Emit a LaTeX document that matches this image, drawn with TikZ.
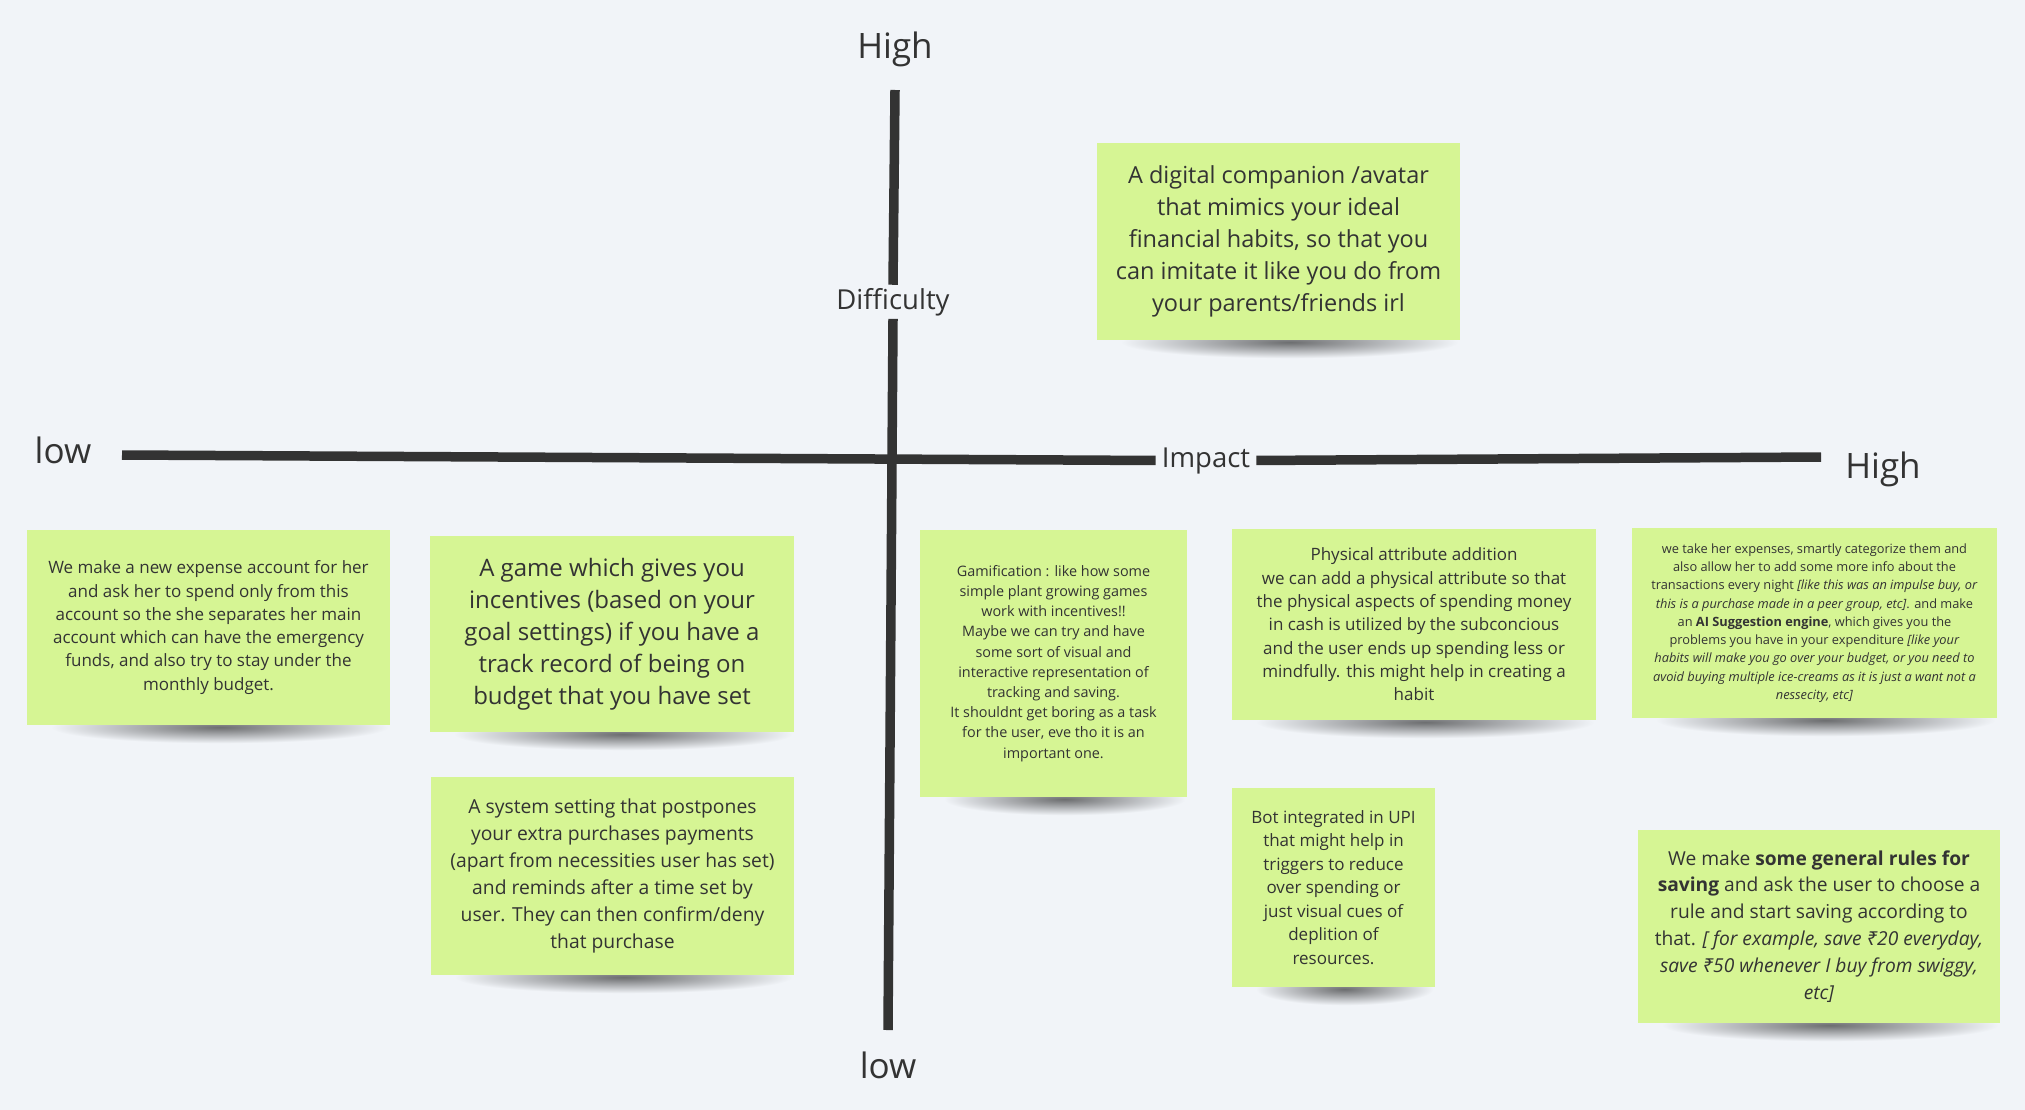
\documentclass[tikz,border=0pt]{standalone}
\usepackage{fontspec}
\setmainfont{Open Sans}
\newfontfamily\rupeefont{Noto Sans}
\usetikzlibrary{backgrounds}
\definecolor{boardbg}{HTML}{F1F4F8}
\definecolor{notegreen}{HTML}{D6F594}
\definecolor{inkgray}{HTML}{333333}
\newcommand{\rupee}{{\rupeefont ₹}}
\tikzset{note/.style={rectangle,fill=notegreen,text=inkgray,align=center,inner sep=0pt}}
\tikzset{notefont/.style 2 args={font=\fontsize{#1}{#2}\selectfont}}
\tikzset{axis/.style={draw=inkgray,line width=9.5pt}}
\tikzset{axislabel/.style={text=inkgray,anchor=base,font=\fontsize{35}{40}\selectfont}}
\tikzset{axisname/.style={text=inkgray,anchor=base,inner xsep=6pt,inner ysep=3pt,font=\fontsize{27.5}{32}\selectfont}}
\tikzset{noteshadow/.style={inner color=black!55!boardbg,outer color=boardbg}}

\begin{document}
\begin{tikzpicture}[x=1pt,y=-1pt]
  \useasboundingbox (0,0) rectangle (2025,1110);
  % axes
  \coordinate (hL) at (122,455);
  \coordinate (hR) at (1821,457);
  \coordinate (vT) at (895,90);
  \coordinate (vB) at (888,1030);
  \node [axislabel] (highT) at (895,59) {High};
  \node [axislabel] (lowL) at (63,463) {low};
  \node [axislabel] (highR) at (1883,478) {High};
  \node [axislabel] (lowB) at (888,1078) {low};
  \node [axisname] (diff) at (893,309) {Difficulty};
  \node [axisname] (impact) at (1206,467) {Impact};
  \draw [axis] (vT) -- (diff.north);
  \draw [axis] (diff.south) -- (vB);
  \draw [axis] (hL) -- (impact.west);
  \draw [axis] (impact.east) -- (hR);
  % sticky notes
  \node [note,notefont={23.5}{32},minimum width=363pt,minimum height=197pt] (avatar) at (1278.5,241.5)
    {A digital companion /avatar\\that mimics your ideal\\financial habits, so that you\\can imitate it like you do from\\your parents/friends irl};
  \node [note,notefont={17}{23.3},minimum width=363pt,minimum height=195pt] (account) at (208.5,627.5)
    {We make a new expense account for her\\and ask her to spend only from this\\account so the she separates her main\\account which can have the emergency\\funds, and also try to stay under the\\monthly budget.};
  \node [note,notefont={24}{32},minimum width=364pt,minimum height=196pt] (game) at (612,634)
    {A game which gives you\\incentives (based on your\\goal settings) if you have a\\track record of being on\\budget that you have set};
  \node [note,notefont={19.3}{26.9},minimum width=363pt,minimum height=198pt] (system) at (612.5,876)
    {A system setting that postpones\\your extra purchases payments\\(apart from necessities user has set)\\and reminds after a time set by\\user. They can then confirm/deny\\that purchase};
  \node [note,notefont={14.4}{20.2},minimum width=267pt,minimum height=267pt] (gamif) at (1053.5,663.5)
    {Gamification : like how some\\simple plant growing games\\work with incentives!!\\Maybe we can try and have\\some sort of visual and\\interactive representation of\\tracking and saving.\\It shouldnt get boring as a task\\for the user, eve tho it is an\\important one.};
  \node [note,notefont={17}{23.3},minimum width=364pt,minimum height=191pt] (physical) at (1414,624.5)
    {Physical attribute addition\\we can add a physical attribute so that\\the physical aspects of spending money\\in cash is utilized by the subconcious\\and the user ends up spending less or\\mindfully. this might help in creating a\\habit};
  \node [note,notefont={12.8}{18.25},minimum width=365pt,minimum height=190pt] (wetake) at (1814.5,623)
    {we take her expenses, smartly categorize them and\\also allow her to add some more info about the\\transactions every night \textit{[like this was an impulse buy, or}\\\textit{this is a purchase made in a peer group, etc]}. and make\\an \textbf{AI Suggestion engine}, which gives you the\\problems you have in your expenditure \textit{[like your}\\\textit{habits will make you go over your budget, or you need to}\\\textit{avoid buying multiple ice-creams as it is just a want not a}\\\textit{nessecity, etc]}};
  \node [note,notefont={17}{23.5},minimum width=203pt,minimum height=199pt] (bot) at (1333.5,887.5)
    {Bot integrated in UPI\\that might help in\\triggers to reduce\\over spending or\\just visual cues of\\deplition of\\resources.};
  \node [note,notefont={19.2}{26.9},minimum width=362pt,minimum height=193pt] (rules) at (1819,926.5)
    {We make \textbf{some general rules for}\\\textbf{saving} and ask the user to choose a\\rule and start saving according to\\that. \textit{[ for example, save \rupee20 everyday,}\\\textit{save \rupee50 whenever I buy from swiggy,}\\\textit{etc]}};
  \begin{pgfonlayer}{background}
    \fill [boardbg] (0,0) rectangle (2025,1110);
    \foreach \n in {avatar,account,game,system,gamif,physical,wetake,bot,rules}
      \shade [noteshadow] ([xshift=24pt,yshift=14pt]\n.south west) rectangle ([xshift=-2pt,yshift=-18pt]\n.south east);
  \end{pgfonlayer}
\end{tikzpicture}
\end{document}
